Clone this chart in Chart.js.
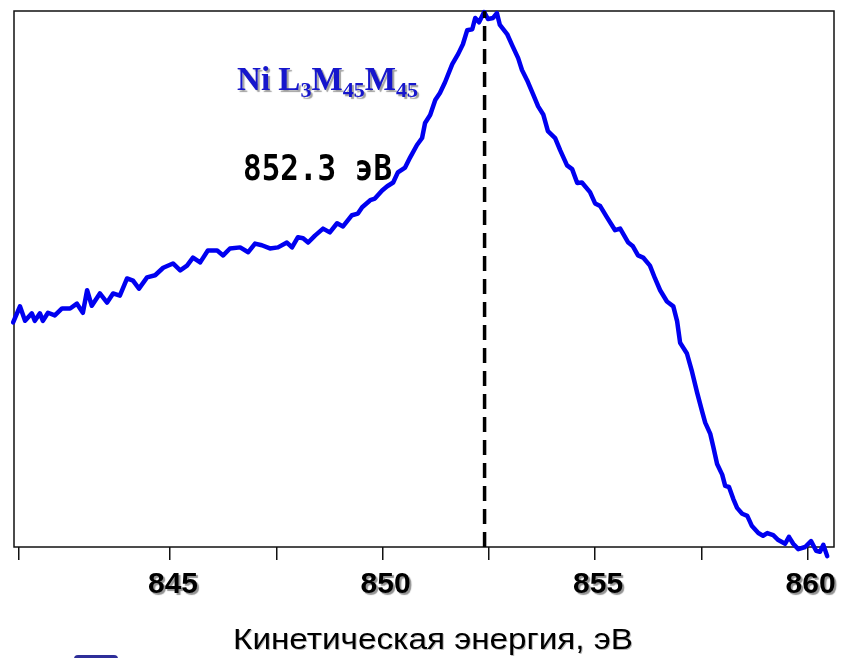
<!DOCTYPE html>
<html>
<head>
<meta charset="utf-8">
<script src="https://cdn.jsdelivr.net/npm/chart.js@4.4.1/dist/chart.umd.min.js"></script>
<style>
  html, body { margin: 0; padding: 0; background: #fff; }
  #wrap { position: relative; width: 850px; height: 658px; overflow: hidden; }
  #legendStub {
    position: absolute; left: 74px; top: 655px; width: 44px; height: 8px;
    background: #2e2e99; border-radius: 4px 4px 0 0;
  }
</style>
</head>
<body>
<div id="wrap">
  <canvas id="chart" width="850" height="658"></canvas>
  <div id="legendStub"></div>
</div>
<script>
// Ni L3M45M45 Auger line, kinetic energy (eV) vs intensity (arb. units)
const energy = [
  841.31, 841.47, 841.59, 841.75, 841.82, 841.94, 842.01, 842.13, 842.29, 842.46,
  842.65, 842.81, 842.95, 843.05, 843.16, 843.35, 843.52, 843.66, 843.82, 843.99,
  844.13, 844.27, 844.46, 844.65, 844.84, 845.07, 845.24, 845.40, 845.54, 845.71,
  845.89, 846.11, 846.25, 846.41, 846.65, 846.84, 847.00, 847.16, 847.35, 847.54,
  847.75, 847.87, 848.01, 848.13, 848.25, 848.41, 848.60, 848.76, 848.93, 849.07,
  849.28, 849.42, 849.52, 849.71, 849.82, 849.99, 850.11, 850.25, 850.36, 850.53,
  850.65, 850.81, 850.93, 851.00, 851.12, 851.24, 851.35, 851.47, 851.64, 851.78,
  851.89, 851.99, 852.11, 852.18, 852.27, 852.39, 852.48, 852.60, 852.69, 852.76,
  852.93, 853.05, 853.19, 853.28, 853.40, 853.54, 853.66, 853.78, 853.89, 854.06,
  854.18, 854.34, 854.46, 854.58, 854.69, 854.88, 855.00, 855.12, 855.28, 855.47,
  855.59, 855.78, 855.89, 856.01, 856.13, 856.29, 856.41, 856.53, 856.69, 856.84,
  856.93, 857.00, 857.16, 857.28, 857.40, 857.52, 857.59, 857.71, 857.78, 857.87,
  857.99, 858.06, 858.15, 858.25, 858.34, 858.46, 858.58, 858.69, 858.84, 858.95,
  859.05, 859.19, 859.31, 859.47, 859.56, 859.66, 859.78, 859.94, 860.08, 860.20,
  860.29, 860.37, 860.46
];
const intensity = [
  41.9, 44.9, 42.2, 43.6, 42.2, 43.6, 42.2, 43.7, 43.2, 44.5,
  44.5, 45.4, 43.7, 47.9, 45.0, 47.3, 45.6, 47.3, 46.9, 50.1,
  49.7, 48.2, 50.3, 50.7, 52.1, 52.9, 51.6, 52.5, 54.0, 53.1,
  55.3, 55.3, 54.4, 55.7, 55.9, 55.0, 56.6, 56.3, 55.7, 55.9,
  56.8, 55.9, 57.8, 57.6, 56.8, 58.1, 59.4, 58.7, 60.4, 59.8,
  61.9, 62.2, 63.4, 64.7, 65.0, 66.5, 67.3, 68.0, 69.9, 70.8,
  72.7, 75.0, 76.3, 79.1, 80.6, 83.4, 84.7, 86.7, 90.1, 92.0,
  93.8, 96.4, 96.6, 98.7, 97.9, 99.8, 98.5, 98.7, 99.6, 97.4,
  95.7, 93.6, 91.2, 89.0, 87.1, 84.5, 82.2, 80.7, 77.6, 76.3,
  74.0, 71.2, 70.5, 67.9, 68.0, 66.2, 64.1, 63.6, 61.5, 59.1,
  59.4, 56.8, 56.1, 54.4, 54.0, 52.5, 50.1, 47.9, 45.8, 44.9,
  42.1, 38.1, 36.1, 32.7, 28.8, 25.2, 23.2, 21.1, 18.7, 15.5,
  13.5, 11.4, 11.2, 9.0, 7.3, 6.2, 5.8, 3.9, 2.6, 2.1,
  2.6, 2.2, 1.3, 0.6, 1.9, 0.6, -0.4, 0.0, 1.1, -0.7,
  -0.9, 0.4, -1.7
];
const peakEnergy = 852.4;
const peakLabel = "852.3 эВ";
const lineLabel = ["Ni L", "3", "M", "45", "M", "45"];
const tickValues = [841.45, 845, 847.5, 850, 852.5, 855, 857.5, 860];
const labelValues = [845, 850, 855, 860];
const axisTitle = "Кинетическая энергия, эВ";

const spectrum = energy.map((e, i) => ({ x: e, y: intensity[i] }));

function drawFitted(ctx, text, x, y, width, align) {
  const w = ctx.measureText(text).width;
  const sx = width / w;
  ctx.save();
  ctx.translate(x, y);
  ctx.scale(sx, 1);
  ctx.textAlign = align || "left";
  ctx.fillText(text, 0, 0);
  ctx.restore();
}

const decorations = {
  id: "decorations",
  beforeDatasetsDraw(chart) {
    const { ctx, chartArea } = chart;
    ctx.save();
    ctx.strokeStyle = "#111";
    ctx.lineWidth = 1.5;
    ctx.strokeRect(chartArea.left, chartArea.top, chartArea.right - chartArea.left, chartArea.bottom - chartArea.top);
    ctx.restore();
  },
  afterDraw(chart) {
    const { ctx } = chart;
    const xs = chart.scales.x;

    // tick labels
    ctx.save();
    ctx.font = "bold 30px 'Liberation Sans', Arial, sans-serif";
    ctx.fillStyle = "#000";
    ctx.textAlign = "center";
    ctx.textBaseline = "alphabetic";
    ctx.shadowColor = "rgba(120,120,120,0.8)";
    ctx.shadowOffsetX = 2;
    ctx.shadowOffsetY = 2;
    ctx.shadowBlur = 1;
    for (const v of labelValues) {
      ctx.fillText(String(v), xs.getPixelForValue(v) + 3, 593);
    }
    ctx.restore();

    // axis title
    ctx.save();
    ctx.font = "29px 'Liberation Sans', Arial, sans-serif";
    ctx.fillStyle = "#000";
    ctx.shadowColor = "rgba(140,140,140,0.6)";
    ctx.shadowOffsetX = 1;
    ctx.shadowOffsetY = 1;
    drawFitted(ctx, axisTitle, 233, 649, 400, "left");
    ctx.restore();

    // peak energy label
    ctx.save();
    ctx.font = "bold 30px 'DejaVu Sans Mono', monospace";
    ctx.fillStyle = "#000";
    const pw = ctx.measureText(peakLabel).width;
    ctx.translate(243, 180);
    ctx.scale(149 / pw, 1.18);
    ctx.fillText(peakLabel, 0, 0);
    ctx.restore();

    // Ni L3M45M45 label
    ctx.save();
    const big = "bold 33px 'Liberation Serif', 'Times New Roman', serif";
    const small = "bold 22px 'Liberation Serif', 'Times New Roman', serif";
    let total = 0;
    lineLabel.forEach((part, i) => {
      ctx.font = i % 2 ? small : big;
      total += ctx.measureText(part).width;
    });
    ctx.translate(237, 90);
    ctx.scale(181 / total, 1);
    ctx.fillStyle = "#1616cc";
    ctx.shadowColor = "rgba(120,120,120,0.7)";
    ctx.shadowOffsetX = 2;
    ctx.shadowOffsetY = 2;
    ctx.shadowBlur = 1;
    let cx = 0;
    lineLabel.forEach((part, i) => {
      ctx.font = i % 2 ? small : big;
      ctx.fillText(part, cx, i % 2 ? 7 : 0);
      cx += ctx.measureText(part).width;
    });
    ctx.restore();
  }
};

new Chart(document.getElementById("chart"), {
  type: "line",
  data: {
    datasets: [
      {
        label: "peak",
        data: [{ x: peakEnergy, y: 0 }, { x: peakEnergy, y: 100 }],
        borderColor: "#000",
        borderWidth: 3.5,
        borderDash: [15, 8],
        pointRadius: 0,
        clip: false,
      },
      {
        label: "Ni L3M45M45",
        data: spectrum,
        borderColor: "#0000f0",
        borderWidth: 4.5,
        pointRadius: 0,
        tension: 0,
        borderJoinStyle: "round",
        borderCapStyle: "round",
        clip: false,
      },
    ],
  },
  options: {
    responsive: false,
    animation: false,
    maintainAspectRatio: false,
    layout: { padding: { left: 14, right: 16, top: 11, bottom: 98 } },
    plugins: { legend: { display: false }, tooltip: { enabled: false } },
    scales: {
      x: {
        type: "linear",
        min: 841.33,
        max: 860.62,
        afterBuildTicks: (scale) => {
          scale.ticks = tickValues.map((v) => ({ value: v }));
        },
        border: { display: false },
        grid: {
          drawOnChartArea: false,
          drawTicks: true,
          tickLength: 13,
          color: "#111",
          lineWidth: 1.5,
        },
        ticks: { display: false },
      },
      y: { display: false, min: 0, max: 100 },
    },
  },
  plugins: [decorations],
});
</script>
</body>
</html>
